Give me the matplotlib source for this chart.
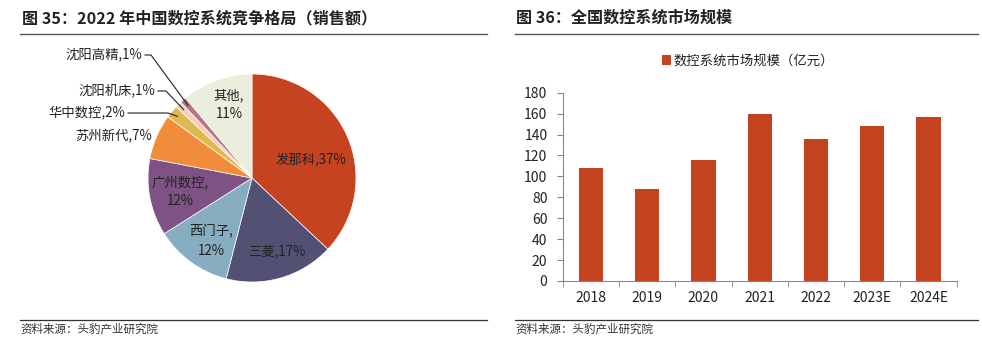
import numpy as np
import matplotlib
matplotlib.use('Agg')
import matplotlib.pyplot as plt
from matplotlib.lines import Line2D

plt.rcParams['font.family'] = ['Noto Sans CJK SC', 'DejaVu Sans']

# pie data (clockwise from 12 o'clock)
pie_names = ['发那科', '三菱', '西门子', '广州数控', '苏州新代', '华中数控', '沈阳机床', '沈阳高精', '其他']
pie_values = [37, 17, 12, 12, 7, 2, 1, 1, 11]
pie_colors = ['#C64322', '#535173', '#87ADC0', '#7F5286', '#F08C3A', '#DDB94F', '#F9CDB9', '#B57880', '#E9EEDD']

# bar data
years = ['2018', '2019', '2020', '2021', '2022', '2023E', '2024E']
market = [108, 88, 116, 160, 136, 148, 157]
bar_color = '#C64322'

W, H = 982, 351
fig = plt.figure(figsize=(W / 100, H / 100), dpi=100)

# overlay axes in pixel coords (y up) for titles, rules, footers
bg = fig.add_axes([0, 0, 1, 1])

def py(y):
    return H - y

# pie drawn on the pixel axes
cx, cy, r = 252, py(178), 104
wedges, _ = bg.pie(pie_values, colors=pie_colors, startangle=90, counterclock=False,
                   center=(cx, cy), radius=r, frame=True,
                   wedgeprops=dict(edgecolor='white', linewidth=0.5))
bg.set_xlim(0, W)
bg.set_ylim(0, H)
bg.set_aspect('auto')
bg.axis('off')

bg.text(22, py(18), '图 35：2022 年中国数控系统竞争格局（销售额）', fontsize=11.6, fontweight='bold',
        color='#222222', va='center', ha='left')
bg.text(516, py(18), '图 36：全国数控系统市场规模', fontsize=11.6, fontweight='bold',
        color='#222222', va='center', ha='left')
for x0, x1 in [(20, 487), (515, 978)]:
    bg.add_line(Line2D([x0, x1], [py(34), py(34)], color='#555555', lw=1.0))
    bg.add_line(Line2D([x0, x1], [py(320), py(320)], color='#333333', lw=0.9))
bg.text(20, py(329), '资料来源：头豹产业研究院', fontsize=8.3, color='#333333', va='center', ha='left')
bg.text(515, py(329), '资料来源：头豹产业研究院', fontsize=8.3, color='#333333', va='center', ha='left')

lab_fs = 9.6
inside = {
    '发那科': (311, 159, '发那科,37%'),
    '三菱': (277, 251, '三菱,17%'),
    '西门子': (211, 241, '西门子,\n12%'),
    '广州数控': (180, 192, '广州数控,\n12%'),
    '其他': (229, 105, '其他,\n11%'),
}
for k, (x, y, t) in inside.items():
    bg.text(x, py(y), t, fontsize=lab_fs, color='#222222', ha='center', va='center', linespacing=1.45)

bg.text(152, py(136), '苏州新代,7%', fontsize=lab_fs, color='#222222', ha='right', va='center')

# labels with leader lines
leader = {
    '华中数控': (125, 112, 168),
    '沈阳机床': (155, 90, 166),
    '沈阳高精': (142, 54, 151),
}
for name, (tx, ty, elbow) in leader.items():
    i = pie_names.index(name)
    w = wedges[i]
    ang = np.deg2rad((w.theta1 + w.theta2) / 2)
    ex = cx + 0.93 * r * np.cos(ang)
    ey = cy + 0.93 * r * np.sin(ang)
    bg.text(tx, py(ty), '%s,%d%%' % (name, pie_values[i]), fontsize=lab_fs, color='#222222',
            ha='right', va='center')
    bg.plot([tx + 3, elbow, ex], [py(ty + 1), py(ty + 1), ey], color='#222222', lw=0.8)

# bar chart
ax = fig.add_axes([562.7 / W, (H - 281) / H, (956.7 - 562.7) / W, (281 - 92.7) / H])
x = np.arange(len(years))
ax.bar(x, market, width=0.43, color=bar_color, label='数控系统市场规模（亿元）', zorder=3)
ax.set_xlim(-0.5, len(years) - 0.5)
ax.set_ylim(0, 180)
ax.set_yticks(np.arange(0, 181, 20))
ax.set_xticks(x)
ax.set_xticklabels(years)
ax.set_xticks(np.arange(-0.5, len(years), 1), minor=True)
ax.tick_params(axis='x', which='major', length=0, pad=7, labelsize=10, labelcolor='#222222')
ax.tick_params(axis='x', which='minor', length=4, color='#888888', direction='out')
ax.tick_params(axis='y', length=4, color='#888888', labelsize=10, labelcolor='#222222', pad=7)
for s in ['top', 'right']:
    ax.spines[s].set_visible(False)
for s in ['left', 'bottom']:
    ax.spines[s].set_color('#888888')
    ax.spines[s].set_linewidth(0.8)
leg = ax.legend(loc='center', bbox_to_anchor=(0.47, 1.17), frameon=False, fontsize=9.6,
                handlelength=0.7, handleheight=0.7, handletextpad=0.2)
for t in leg.get_texts():
    t.set_color('#222222')

fig.savefig('out.png', dpi=100)
